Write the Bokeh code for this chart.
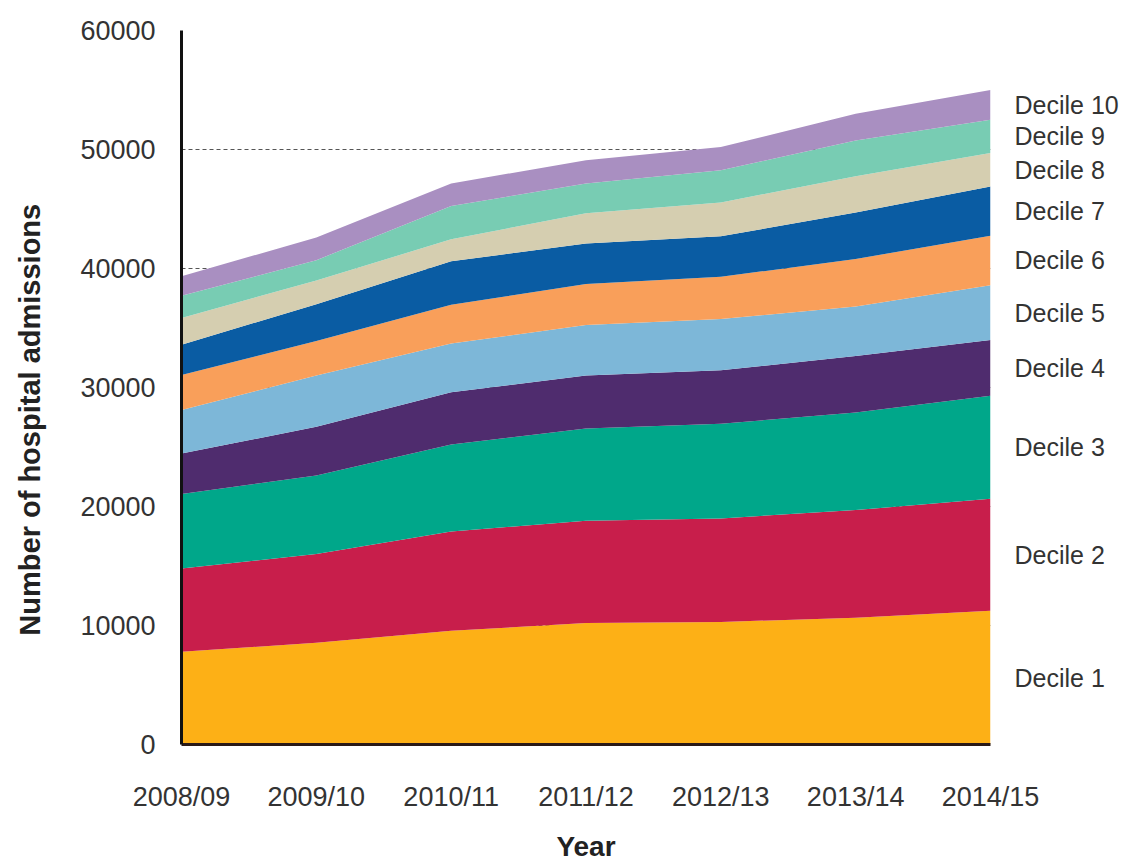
import math
from bokeh.plotting import figure
from bokeh.models import FixedTicker, Range1d, ColumnDataSource, LinearAxis
from bokeh.layouts import row
from bokeh.core.properties import value
from bokeh.embed import file_html
from bokeh.resources import INLINE

years = ["2008/09", "2009/10", "2010/11", "2011/12", "2012/13", "2013/14", "2014/15"]

decile_1 = [7800, 8550, 9550, 10200, 10300, 10650, 11250]
decile_2 = [7000, 7450, 8350, 8600, 8700, 9050, 9400]
decile_3 = [6250, 6600, 7300, 7750, 7950, 8200, 8650]
decile_4 = [3400, 4100, 4400, 4450, 4500, 4750, 4700]
decile_5 = [3650, 4300, 4100, 4250, 4300, 4150, 4600]
decile_6 = [2950, 2900, 3250, 3450, 3550, 4000, 4150]
decile_7 = [2550, 3100, 3650, 3400, 3400, 3900, 4150]
decile_8 = [2250, 2000, 1850, 2550, 2850, 3050, 2800]
decile_9 = [1850, 1700, 2800, 2500, 2700, 3000, 2800]
decile_10 = [1650, 1900, 1900, 1950, 1950, 2250, 2500]

series_names = ["Decile 1", "Decile 2", "Decile 3", "Decile 4", "Decile 5",
                "Decile 6", "Decile 7", "Decile 8", "Decile 9", "Decile 10"]
series_values = [decile_1, decile_2, decile_3, decile_4, decile_5,
                 decile_6, decile_7, decile_8, decile_9, decile_10]
colors = ["#FDB016", "#C81E4B", "#00A78A", "#4F2C6E", "#7DB7D8",
          "#F99F5A", "#0A5CA3", "#D5CEB0", "#78CCB3", "#A98FC1"]

y_ticks = [0, 10000, 20000, 30000, 40000, 50000, 60000]
y_tick_labels = ["0", "10000", "20000", "30000", "40000", "50000", "60000"]
y_title = "Number of hospital admissions"

xs = list(range(len(years)))
data = {"x": xs}
for name, vals in zip(series_names, series_values):
    data[name] = vals
source = ColumnDataSource(data)

FONT = "Liberation Sans"
H = 864
TITLE_W = 60

# narrow panel holding the rotated y-axis title
pt = figure(width=TITLE_W, height=H, output_backend="svg", toolbar_location=None,
            x_range=Range1d(0, TITLE_W), y_range=Range1d(0, H),
            x_axis_type=None, y_axis_type=None,
            min_border_left=0, min_border_right=0, min_border_top=0,
            min_border_bottom=0)
pt.outline_line_color = None
pt.grid.visible = False
pt.text(x=[TITLE_W / 2 - 1], y=[393], text=[y_title], angle=math.pi / 2,
        text_font=value(FONT), text_font_size="29px", text_font_style="bold",
        text_color="#222222", text_align="center", text_baseline="middle")

p = figure(width=1148 - TITLE_W, height=H, output_backend="svg",
           toolbar_location=None,
           x_range=Range1d(0, len(years) - 1), y_range=Range1d(0, 60000),
           min_border_left=181 - TITLE_W, min_border_right=158,
           min_border_top=30, min_border_bottom=113)
p.outline_line_color = None

p.varea_stack(stackers=series_names, x="x", color=colors, source=source)

# grid
p.xgrid.grid_line_color = None
p.ygrid.ticker = FixedTicker(ticks=y_ticks)
p.ygrid.grid_line_color = "#555555"
p.ygrid.grid_line_dash = "4 3"
p.ygrid.grid_line_width = 1

# y axis
p.yaxis.ticker = FixedTicker(ticks=y_ticks)
p.yaxis.major_label_overrides = {t: l for t, l in zip(y_ticks, y_tick_labels)}
p.yaxis.axis_line_color = "#111111"
p.yaxis.axis_line_width = 3
p.yaxis.major_tick_line_color = None
p.yaxis.minor_tick_line_color = None
p.yaxis.major_label_text_font = FONT
p.yaxis.major_label_text_font_size = "27px"
p.yaxis.major_label_text_color = "#333333"
p.yaxis.major_label_standoff = 20

# x axis
p.xaxis.ticker = FixedTicker(ticks=xs)
p.xaxis.major_label_overrides = {i: y for i, y in zip(xs, years)}
p.xaxis.axis_line_color = "#2A1A18"
p.xaxis.axis_line_width = 3
p.xaxis.major_tick_line_color = None
p.xaxis.minor_tick_line_color = None
p.xaxis.major_label_text_font = FONT
p.xaxis.major_label_text_font_size = "27px"
p.xaxis.major_label_text_color = "#333333"
p.xaxis.major_label_standoff = 31
p.xaxis.axis_label = "Year"
p.xaxis.axis_label_text_font = FONT
p.xaxis.axis_label_text_font_style = "bold"
p.xaxis.axis_label_text_font_size = "28px"
p.xaxis.axis_label_text_color = "#222222"
p.xaxis.axis_label_standoff = 16

# series labels on the right, at the middle of each band at the last year
last = len(years) - 1
label_y = []
cum = 0
for vals in series_values:
    label_y.append(int(round(cum + vals[last] / 2)))
    cum += vals[last]

right_axis = LinearAxis(ticker=FixedTicker(ticks=label_y),
                        major_label_overrides={t: n for t, n in zip(label_y, series_names)},
                        axis_line_color=None, major_tick_line_color=None,
                        minor_tick_line_color=None, major_label_standoff=18,
                        major_label_text_font=FONT,
                        major_label_text_font_size="25px",
                        major_label_text_color="#333333")
p.add_layout(right_axis, "right")

layout = row(pt, p)
open("out.html", "w").write(file_html(layout, INLINE))
